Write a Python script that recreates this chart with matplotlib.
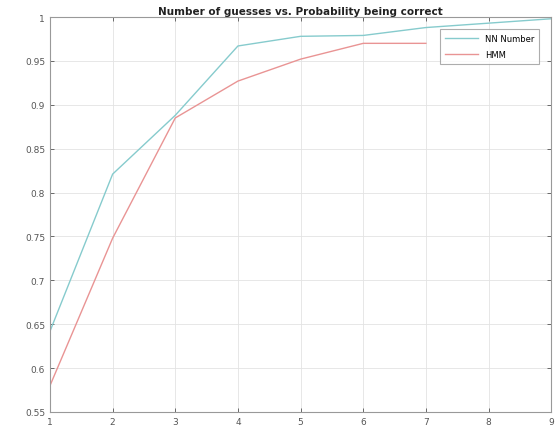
import matplotlib
matplotlib.use("Agg")
import matplotlib.pyplot as plt
from matplotlib.ticker import FixedLocator

guesses_a = [1, 2, 3, 4, 5, 6, 7, 8, 9]
nn_prob = [0.642, 0.821, 0.888, 0.967, 0.978, 0.979, 0.988, 0.993, 0.998]
guesses_b = [1, 2, 3, 4, 5, 6, 7]
hmm_prob = [0.580, 0.748, 0.885, 0.927, 0.952, 0.970, 0.970]
x_ticks = [1, 2, 3, 4, 5, 6, 7, 8, 9]
y_ticks = [0.55, 0.6, 0.65, 0.7, 0.75, 0.8, 0.85, 0.9, 0.95, 1.0]
y_labels = ["0.55", "0.6", "0.65", "0.7", "0.75", "0.8", "0.85", "0.9", "0.95", "1"]
labels = ["NN Number", "HMM"]
title = "Number of guesses vs. Probability being correct"

fig = plt.figure(figsize=(5.59, 4.35), dpi=100)
ax = fig.add_axes([0.0894, 0.0506, 0.8966, 0.908])

ax.plot(guesses_a, nn_prob, color="#86cbcd", lw=1.0, label=labels[0])
ax.plot(guesses_b, hmm_prob, color="#e99494", lw=1.0, label=labels[1])

ax.set_xlim(1, 9)
ax.set_ylim(0.55, 1.0)
ax.xaxis.set_major_locator(FixedLocator(x_ticks))
ax.set_xticklabels([str(v) for v in x_ticks])
ax.set_yticks(y_ticks)
ax.set_yticklabels(y_labels)
ax.tick_params(direction="in", length=3, width=0.6, labelsize=6.5,
               colors="#555555", top=True, right=True)
ax.grid(True, color="#e3e3e3", lw=0.6)
for s in ax.spines.values():
    s.set_color("#999999")
    s.set_linewidth(0.8)

ax.set_title(title, fontsize=7.5, fontweight="bold", pad=2, color="#222222")
leg = ax.legend(loc="upper right", fontsize=6, frameon=True, fancybox=False,
                edgecolor="#999999", borderaxespad=1.0, handlelength=4,
                borderpad=0.6, labelspacing=0.8, bbox_to_anchor=(0.993, 0.99))
leg.get_frame().set_linewidth(0.8)

fig.savefig("out.png", dpi=100)
